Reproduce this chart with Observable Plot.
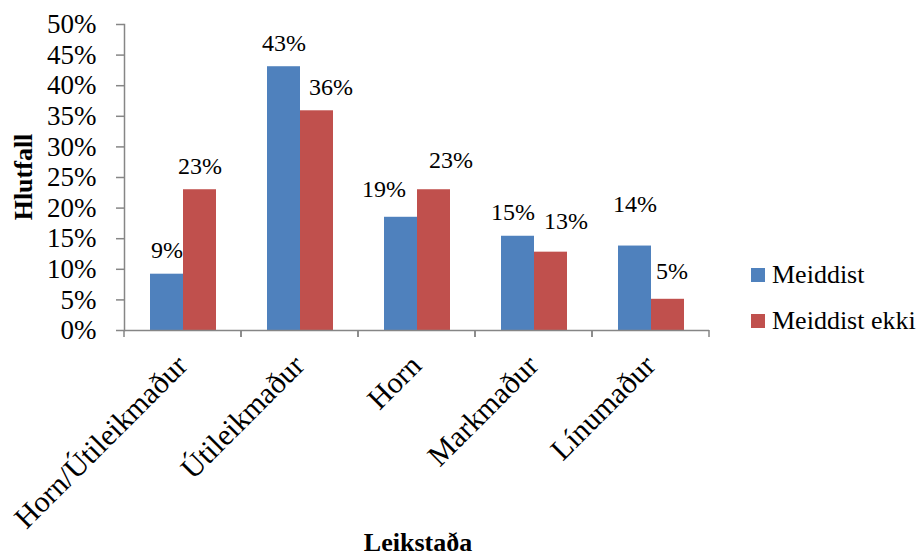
<!DOCTYPE html>
<html>
<head>
<meta charset="utf-8">
<script src="https://cdn.jsdelivr.net/npm/d3@7"></script>
<script src="https://cdn.jsdelivr.net/npm/@observablehq/plot@0.6"></script>
<style>
  body { margin: 0; background: #fff; }
  #chart svg { display: block; }
  #chart svg text { font-family: 'Liberation Serif', 'Times New Roman', serif; }
</style>
</head>
<body>
<div id="chart"></div>
<script>
// Playing positions (categories) and the two series
const positions = ["Horn/Útileikmaður", "Útileikmaður", "Horn", "Markmaður", "Línumaður"];
const seriesNames = ["Meiddist", "Meiddist ekki"];
const meiddist = [0.092, 0.431, 0.185, 0.154, 0.138];
const meiddistEkki = [0.230, 0.359, 0.230, 0.128, 0.051];
const yTicks = [0, 0.05, 0.10, 0.15, 0.20, 0.25, 0.30, 0.35, 0.40, 0.45, 0.50];
const seriesColors = ["#4F81BD", "#C0504D"];

// Hand placement of a few value labels (pixel offsets from the default spot)
const labelNudge = {
  "Útileikmaður|Meiddist ekki": [14, 0],
  "Horn|Meiddist": [-17, -4],
  "Horn|Meiddist ekki": [17, -6],
  "Markmaður|Meiddist": [-5, 0],
  "Markmaður|Meiddist ekki": [15, -7],
  "Línumaður|Meiddist": [0, -18],
  "Línumaður|Meiddist ekki": [4, -4]
};

const data = positions.flatMap((p, i) => [
  {position: p, series: seriesNames[0], value: meiddist[i]},
  {position: p, series: seriesNames[1], value: meiddistEkki[i]}
]);

const axisGray = "#868686";
const fontFamily = "'Liberation Serif', 'Times New Roman', serif";
const pct = d3.format(".0%");

// Short tick marks at the boundaries between categories
function categoryTicks(index, scales, values, dimensions) {
  const {width, marginLeft, marginRight} = dimensions;
  const y0 = scales.y(0);
  const g = d3.create("svg:g").attr("stroke", axisGray).attr("stroke-width", 1.5);
  for (const xx of [marginLeft, width - marginRight]) {
    g.append("line").attr("x1", xx).attr("x2", xx).attr("y1", y0).attr("y2", y0 + 7);
  }
  return g.node();
}

const valueLabels = data.map(d => {
  const [dx, dy] = labelNudge[d.position + "|" + d.series] || [0, 0];
  return Plot.text([d], {
    fx: "position", x: "series", y: "value",
    text: d => pct(d.value),
    lineAnchor: "bottom", dy: -16 + dy, dx,
    fill: "black", fontSize: 24, fontFamily
  });
});

const chart = Plot.plot({
  width: 920,
  height: 558,
  marginTop: 24,
  marginBottom: 228,
  marginLeft: 123,
  marginRight: 210,
  style: {fontFamily, fontSize: "26px", color: "black", background: "white"},
  fx: {domain: positions, padding: 0},
  x: {domain: seriesNames, paddingInner: 0, paddingOuter: 0.75, axis: null},
  y: {domain: [0, 0.5]},
  color: {domain: seriesNames, range: seriesColors},
  marks: [
    Plot.barY(data, {fx: "position", x: "series", y: "value", fill: "series"}),
    Plot.ruleY([0], {stroke: axisGray, strokeWidth: 1.5}),
    Plot.frame({anchor: "left", facetAnchor: "left", stroke: axisGray, strokeWidth: 1.5}),
    categoryTicks,
    Plot.axisY({
      ticks: yTicks, tickFormat: pct, tickSize: 8, tickPadding: 20,
      stroke: axisGray, strokeWidth: 1.5, fontSize: 27, fontFamily, label: null
    }),
    Plot.axisFx({
      anchor: "bottom", tickSize: 0, tickPadding: 0, tickRotate: -45,
      textAnchor: "end", lineAnchor: "bottom", dx: 6, dy: 37,
      fontSize: 30, fontFamily, label: null
    }),
    ...valueLabels
  ]
});

const svg = d3.select(chart);

// Axis titles
svg.append("text")
  .attr("transform", "translate(32,177) rotate(-90)")
  .attr("text-anchor", "middle")
  .style("font-family", fontFamily)
  .attr("font-weight", "bold").attr("font-size", 26).attr("fill", "black")
  .text("Hlutfall");
svg.append("text")
  .attr("x", 418).attr("y", 551)
  .attr("text-anchor", "middle")
  .style("font-family", fontFamily)
  .attr("font-weight", "bold").attr("font-size", 26).attr("fill", "black")
  .text("Leikstaða");

// Legend
const legend = svg.append("g").attr("transform", "translate(751,268)");
seriesNames.forEach((name, i) => {
  const row = legend.append("g").attr("transform", `translate(0,${i * 46})`);
  row.append("rect").attr("width", 14).attr("height", 14).attr("fill", chart.scale("color").apply(name));
  row.append("text").attr("x", 21).attr("y", 15)
    .attr("text-anchor", "start")
    .style("font-family", fontFamily)
    .attr("font-size", 26).attr("fill", "black").text(name);
});

document.getElementById("chart").appendChild(chart);
</script>
</body>
</html>
